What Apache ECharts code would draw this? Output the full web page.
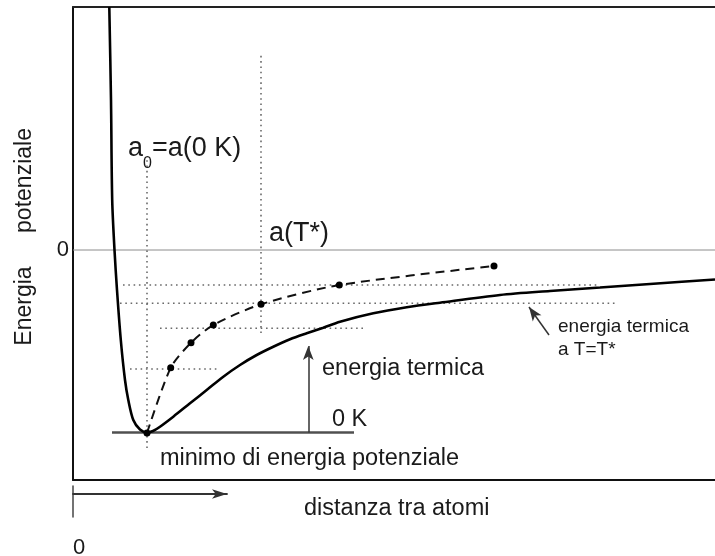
<!DOCTYPE html>
<html>
<head>
<meta charset="utf-8">
<script src="https://cdn.jsdelivr.net/npm/echarts@6/dist/echarts.min.js"></script>
<style>
  html, body { margin: 0; padding: 0; background: #fff; }
  #chart { width: 715px; height: 556px; }
</style>
</head>
<body>
<div id="chart"></div>
<script>
// Interatomic potential energy curve (arbitrary units)
const distance = [0.363, 0.38, 0.392, 0.415, 0.44, 0.478, 0.52, 0.553, 0.603, 0.67, 0.74, 0.80,
  0.87, 1.003, 1.17, 1.337, 1.503, 1.67, 1.837, 2.003, 2.17, 2.337, 2.503, 2.67,
  3.003, 3.337, 3.67, 4.27, 4.77, 5.27, 5.77, 6.42];
const energy = [2.43, 1.5, 0.5, 0, -0.4, -0.9, -1.3, -1.5, -1.7, -1.795, -1.825, -1.81,
  -1.767, -1.667, -1.533, -1.4, -1.267, -1.15, -1.05, -0.967, -0.893, -0.833, -0.777, -0.717,
  -0.633, -0.573, -0.527, -0.45, -0.41, -0.375, -0.34, -0.295];

// Mean atomic spacing at increasing thermal energy
const meanDistance = [0.74, 0.977, 1.18, 1.403, 1.88, 2.663, 4.21];
const meanEnergy = [-1.83, -1.177, -0.927, -0.75, -0.543, -0.35, -0.16];

// Thermal energy levels (dotted horizontals)
const levelEnergy = [-1.19, -0.783, -0.533, -0.35];
const levelFrom = [0.57, 0.87, 0.47, 0.50];
const levelTo = [1.47, 2.90, 5.44, 5.27];

// Reference spacings a0 and a(T*) (dotted verticals)
const refDistance = [0.74, 1.88];
const refFrom = [-1.98, -0.83];
const refTo = [0.90, 1.95];

// Minimum of the potential (0 K)
const minEnergy = -1.825;
const minFrom = 0.39;
const minTo = 2.81;

// Annotation arrows: [x0, y0, x1, y1]
const thermalArrow = [2.353, -1.825, 2.353, -0.96];
const levelArrow = [4.76, -0.85, 4.56, -0.57];

const FONT = "'Liberation Sans', Arial, Helvetica, sans-serif";
const INK = '#1a1a1a';
const dotted = { color: '#6a6a6a', width: 1.6, type: [1.6, 3.7] };

const series = [];

levelEnergy.forEach((e, i) => {
  series.push({
    type: 'line', xAxisIndex: 0, yAxisIndex: 0, symbol: 'none', silent: true,
    lineStyle: dotted, data: [[levelFrom[i], e], [levelTo[i], e]]
  });
});
refDistance.forEach((d, i) => {
  series.push({
    type: 'line', xAxisIndex: 0, yAxisIndex: 0, symbol: 'none', silent: true,
    lineStyle: dotted, data: [[d, refFrom[i]], [d, refTo[i]]]
  });
});

// zero energy line
series.push({
  type: 'line', symbol: 'none', silent: true,
  lineStyle: { color: '#8c8c8c', width: 1 },
  data: [[0, 0], [6.42, 0]]
});

// 0 K baseline with the two annotation arrows
series.push({
  type: 'line', symbol: 'none', silent: true,
  lineStyle: { color: '#505050', width: 2.5 },
  data: [[minFrom, minEnergy], [minTo, minEnergy]],
  markLine: {
    silent: true,
    symbol: ['none', 'arrow'],
    symbolSize: [8, 14],
    label: { show: false },
    lineStyle: { color: '#333', width: 1.5, type: 'solid' },
    data: [
      [{ coord: [thermalArrow[0], thermalArrow[1]] }, { coord: [thermalArrow[2], thermalArrow[3]] }],
      [{ coord: [levelArrow[0], levelArrow[1]] }, { coord: [levelArrow[2], levelArrow[3]] }]
    ]
  }
});

// potential curve
series.push({
  type: 'line', symbol: 'none', smooth: 0.3, clip: true,
  lineStyle: { color: '#000', width: 2.6 },
  data: distance.map((d, i) => [d, energy[i]])
});

// mean spacing curve
series.push({
  type: 'line', smooth: 0.25,
  symbol: 'circle', symbolSize: 7,
  itemStyle: { color: '#000' },
  lineStyle: { color: '#111', width: 2, type: [9, 6] },
  data: meanDistance.map((d, i) => [d, meanEnergy[i]])
});

function label(text, x, y, size) {
  return {
    type: 'text', x: x, y: y, silent: true,
    style: { text: text, fontSize: size, fontFamily: FONT, fill: INK, align: 'left', verticalAlign: 'middle' }
  };
}

function vlabel(text, x, y, size) {
  return {
    type: 'text', x: x, y: y, rotation: Math.PI / 2, silent: true,
    style: { text: text, fontSize: size, fontFamily: FONT, fill: INK, align: 'center', verticalAlign: 'middle' }
  };
}

const option = {
  animation: false,
  backgroundColor: '#fff',
  grid: [
    { left: 73, right: 0, top: 7, bottom: 76 },
    { left: 73, width: 154, top: 486, height: 34 }
  ],
  xAxis: [
    { type: 'value', gridIndex: 0, min: 0, max: 6.42, position: 'bottom',
      axisLine: { show: true, onZero: false, lineStyle: { color: '#111', width: 2 } },
      axisTick: { show: false }, axisLabel: { show: false }, splitLine: { show: false } },
    { type: 'value', gridIndex: 0, min: 0, max: 6.42, position: 'top',
      axisLine: { show: true, onZero: false, lineStyle: { color: '#222', width: 1.8 } },
      axisTick: { show: false }, axisLabel: { show: false }, splitLine: { show: false } },
    { type: 'value', gridIndex: 1, min: 0, max: 1, interval: 1, position: 'top', offset: -8,
      axisLine: { show: true, onZero: false, symbol: ['none', 'arrow'], symbolSize: [7, 15],
        lineStyle: { color: '#333', width: 1.8 } },
      axisTick: { show: false }, splitLine: { show: false },
      axisLabel: { show: true, inside: true, margin: 43, align: 'left',
        fontSize: 22, fontFamily: FONT, color: INK,
        formatter: v => (v === 0 ? '0' : '') } }
  ],
  yAxis: [
    { type: 'value', gridIndex: 0, min: -2.3, max: 2.43, interval: 2.3,
      axisLine: { show: true, onZero: false, lineStyle: { color: '#111', width: 2 } },
      axisTick: { show: false }, splitLine: { show: false },
      axisLabel: { show: true, margin: 4, fontSize: 22, fontFamily: FONT, color: INK,
        showMaxLabel: false,
        formatter: v => (Math.abs(v) < 1e-9 ? '0' : '') } },
    { type: 'value', gridIndex: 1, min: 0, max: 1,
      axisLine: { show: true, onZero: false, lineStyle: { color: '#444', width: 1.5 } },
      axisTick: { show: false }, axisLabel: { show: false }, splitLine: { show: false } }
  ],
  series: series,
  graphic: [
    label('a', 128, 148.5, 27),
    label('0', 143, 164, 16),
    label('=a(0 K)', 152, 148.5, 27),
    label('a(T*)', 269, 233.5, 27),
    label('energia termica', 322, 368.5, 23.5),
    label('0 K', 332, 419.5, 23.5),
    label('minimo di energia potenziale', 160, 458.5, 23.5),
    label('energia termica', 558, 327, 19),
    label('a T=T*', 558, 350, 19),
    label('distanza tra atomi', 304, 508.5, 23.5),
    vlabel('potenziale', 25, 180.5, 23),
    vlabel('Energia', 25, 306, 23)
  ]
};

const chart = echarts.init(document.getElementById('chart'), null, { renderer: 'canvas' });
chart.setOption(option);
</script>
</body>
</html>
